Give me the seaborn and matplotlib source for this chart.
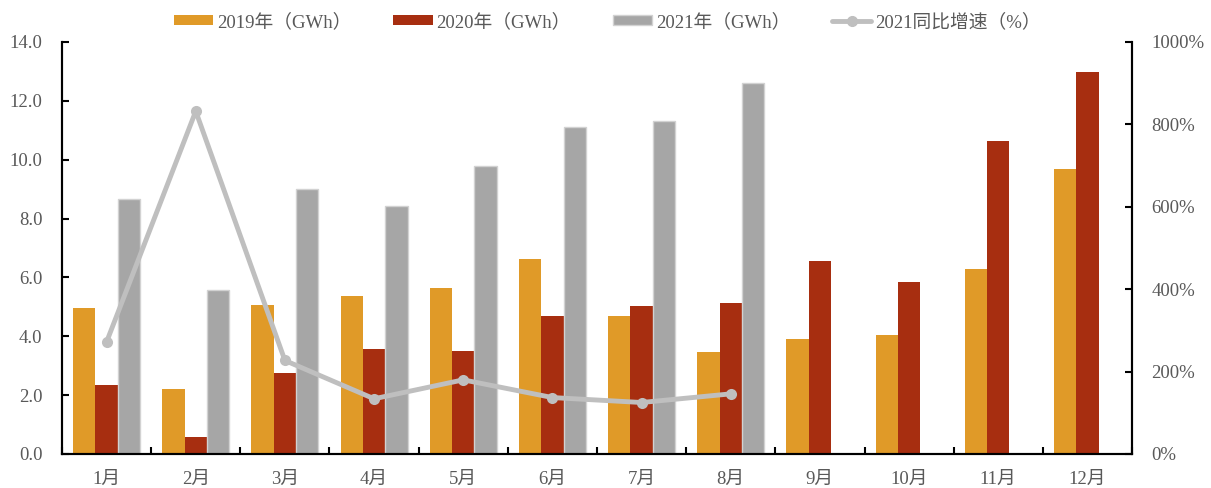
import numpy as np
import pandas as pd
import matplotlib
matplotlib.use("Agg")
import matplotlib.pyplot as plt
import seaborn as sns
from matplotlib.patches import Patch
from matplotlib.lines import Line2D

months = ["1月", "2月", "3月", "4月", "5月", "6月", "7月", "8月", "9月", "10月", "11月", "12月"]
v2019 = [4.95, 2.22, 5.08, 5.38, 5.65, 6.62, 4.68, 3.45, 3.92, 4.05, 6.30, 9.70]
v2020 = [2.33, 0.58, 2.75, 3.58, 3.50, 4.68, 5.02, 5.12, 6.57, 5.85, 10.62, 12.98]
v2021 = [8.68, 5.57, 9.00, 8.42, 9.80, 11.10, 11.32, 12.62, np.nan, np.nan, np.nan, np.nan]
growth2021 = [272, 832, 227, 134, 180, 137, 125, 146]
series_names = ["2019年（GWh）", "2020年（GWh）", "2021年（GWh）"]
line_name = "2021同比增速（%）"

c2019 = "#E09A28"
c2020 = "#A72E10"
c2021 = "#A6A6A6"
cline = "#BFBFBF"

sns.set_theme(style="white")
plt.rcParams["font.family"] = ["Liberation Serif", "Noto Sans CJK SC", "DejaVu Sans"]
plt.rcParams["axes.unicode_minus"] = False

FS = 13.5

df = pd.DataFrame({
    "month": months * 3,
    "series": [series_names[0]] * 12 + [series_names[1]] * 12 + [series_names[2]] * 12,
    "value": v2019 + v2020 + v2021,
})

fig = plt.figure(figsize=(12.11, 4.88), dpi=100)
ax = fig.add_axes([62 / 1211, 34 / 488, (1132 - 62) / 1211, (454 - 42) / 488])

sns.barplot(data=df, x="month", y="value", hue="series", order=months,
            hue_order=series_names, palette=[c2019, c2020, c2021],
            width=0.75, gap=0, ax=ax, legend=False, saturation=1, errorbar=None)

for p in ax.patches:
    fc = matplotlib.colors.to_hex(p.get_facecolor())
    if fc.lower() == c2021.lower():
        p.set_edgecolor("#D2D2D2")
        p.set_linewidth(1.0)
    else:
        p.set_linewidth(0)

ax.set_ylim(0, 14)
ax.set_xlim(-0.5, 11.5)
ax.set_yticks(np.arange(0, 14.1, 2))
ax.set_yticklabels([f"{v:.1f}" for v in np.arange(0, 14.1, 2)])
ax.set_xlabel("")
ax.set_ylabel("")

ax2 = ax.twinx()
gdf = pd.DataFrame({"pos": np.arange(len(growth2021)), "g": growth2021})
sns.lineplot(data=gdf, x="pos", y="g", ax=ax2, color=cline, linewidth=3.5,
             marker="o", markersize=8, markeredgewidth=0, legend=False)
ax2.set_ylim(0, 1000)
ax2.set_yticks(np.arange(0, 1001, 200))
ax2.set_yticklabels([f"{int(v)}%" for v in np.arange(0, 1001, 200)])
ax2.set_xlim(-0.5, 11.5)
ax2.set_ylabel("")
ax2.set_xlabel("")

label_color = "#595959"
for a in (ax, ax2):
    a.spines["top"].set_visible(False)
    for s in ("left", "right", "bottom"):
        a.spines[s].set_color("black")
        a.spines[s].set_linewidth(1.5)

ax.tick_params(axis="y", direction="in", length=5, width=1.5, colors="black",
               labelcolor=label_color, labelsize=FS, pad=14, left=True)
ax2.tick_params(axis="y", direction="in", length=5, width=1.5, colors="black",
                labelcolor=label_color, labelsize=FS, pad=14, right=True)
ax.set_xticks(np.arange(12))
ax.set_xticklabels(months)
ax.tick_params(axis="x", which="major", length=0, labelcolor=label_color,
               labelsize=FS, pad=12)
ax.set_xticks(np.arange(-0.5, 11.6, 1), minor=True)
ax.tick_params(axis="x", which="minor", direction="in", length=5, width=1.5,
               colors="black", bottom=True)

handles = [
    Patch(facecolor=c2019, edgecolor="none"),
    Patch(facecolor=c2020, edgecolor="none"),
    Patch(facecolor=c2021, edgecolor="#D2D2D2"),
    Line2D([0], [0], color=cline, linewidth=3.5, marker="o", markersize=7),
]
labels = series_names + [line_name]
fig.legend(handles, labels, loc="center", bbox_to_anchor=(0.5015, 0.955), ncol=4,
           frameon=False, fontsize=FS, handlelength=2.1, handleheight=0.45,
           handletextpad=0.2, columnspacing=2.23, labelcolor=label_color)

fig.savefig("out.png", dpi=100)
